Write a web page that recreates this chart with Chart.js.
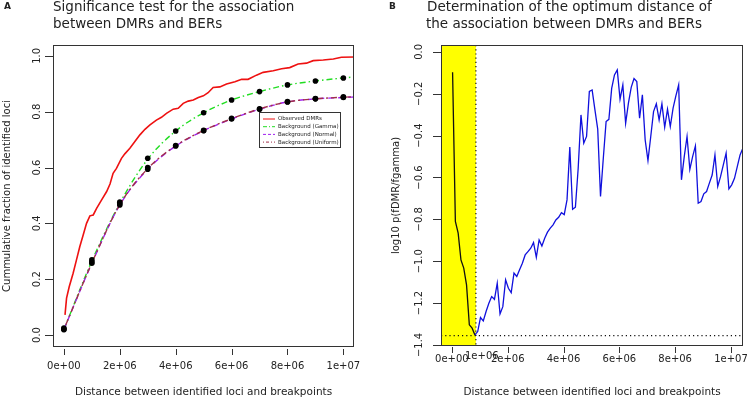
<!DOCTYPE html>
<html>
<head>
<meta charset="utf-8">
<script src="https://cdn.jsdelivr.net/npm/chart.js@4.4.1/dist/chart.umd.min.js"></script>
<style>
  html, body { margin: 0; padding: 0; background: #fff; }
  #wrap { position: relative; width: 747px; height: 401px; }
  #chartA { position: absolute; left: 0; top: 0; }
  #chartB { position: absolute; left: 374px; top: 0; }
</style>
</head>
<body>
<div id="wrap">
  <canvas id="chartA" width="374" height="401"></canvas>
  <canvas id="chartB" width="373" height="401"></canvas>
</div>
<script>
const FONT = "'DejaVu Sans', sans-serif";
const TEXT = "#222";

// ---- panel A: cumulative fractions ----
const bgDistance = [0, 1e6, 2e6, 3e6, 4e6, 5e6, 6e6, 7e6, 8e6, 9e6, 1e7];
const gammaDots = [0.02, 0.269, 0.476, 0.633, 0.731, 0.796, 0.842, 0.872, 0.896, 0.910, 0.921];
const normalDots = [0.02, 0.257, 0.466, 0.594, 0.677, 0.732, 0.774, 0.809, 0.835, 0.846, 0.851];
const uniformDots = [0.025, 0.262, 0.470, 0.600, 0.679, 0.733, 0.776, 0.810, 0.836, 0.847, 0.853];

const curveDistance = [0, 1e6, 2e6, 3e6, 4e6, 5e6, 6e6, 7e6, 8e6, 9e6, 1e7, 1.045e7];
const gammaCurve = [0.02, 0.265, 0.472, 0.630, 0.731, 0.796, 0.842, 0.872, 0.896, 0.910, 0.921, 0.925];
const normalCurve = [0.02, 0.257, 0.466, 0.594, 0.677, 0.732, 0.774, 0.809, 0.835, 0.846, 0.851, 0.853];
const uniformCurve = [0.02, 0.258, 0.467, 0.596, 0.678, 0.733, 0.775, 0.810, 0.835, 0.846, 0.852, 0.854];

// observed DMRs, distance in Mb
const observedMb = [0.04, 0.095, 0.19, 0.33, 0.45, 0.57, 0.69, 0.81, 0.93, 1.05,
  1.17, 1.35, 1.53, 1.65, 1.76, 1.88, 2.06, 2.18, 2.36, 2.54,
  2.72, 2.90, 3.08, 3.31, 3.49, 3.67, 3.91, 4.09, 4.27, 4.45,
  4.63, 4.81, 4.99, 5.16, 5.34, 5.58, 5.82, 6.12, 6.36, 6.59,
  6.89, 7.13, 7.49, 7.79, 8.08, 8.38, 8.68, 8.92, 9.28, 9.64,
  9.93, 10.45];
const observedFraction = [0.072, 0.132, 0.173, 0.221, 0.269, 0.317, 0.358, 0.400, 0.427, 0.430,
  0.454, 0.484, 0.514, 0.541, 0.579, 0.597, 0.633, 0.649, 0.669, 0.693,
  0.717, 0.737, 0.753, 0.770, 0.780, 0.794, 0.809, 0.812, 0.830, 0.838,
  0.842, 0.851, 0.857, 0.868, 0.887, 0.889, 0.899, 0.907, 0.916, 0.916,
  0.931, 0.941, 0.947, 0.954, 0.958, 0.971, 0.974, 0.983, 0.985, 0.989,
  0.995, 0.996];

const xTicks = [0, 2e6, 4e6, 6e6, 8e6, 1e7];
const yTicksA = [0, 0.2, 0.4, 0.6, 0.8, 1.0];

// ---- panel B: log10 p over distance ----
const distanceMb = [0.025, 0.125, 0.225, 0.325, 0.425, 0.525, 0.625, 0.725, 0.825, 0.925,
  1.025, 1.125, 1.225, 1.325, 1.425, 1.525, 1.625, 1.725, 1.825, 1.925,
  2.025, 2.125, 2.225, 2.325, 2.425, 2.525, 2.625, 2.725, 2.825, 2.925,
  3.025, 3.125, 3.225, 3.325, 3.425, 3.525, 3.625, 3.725, 3.825, 3.925,
  4.025, 4.125, 4.225, 4.325, 4.425, 4.525, 4.625, 4.725, 4.825, 4.925,
  5.025, 5.125, 5.225, 5.325, 5.425, 5.525, 5.625, 5.725, 5.825, 5.925,
  6.025, 6.125, 6.225, 6.325, 6.425, 6.525, 6.625, 6.725, 6.825, 6.925,
  7.025, 7.125, 7.225, 7.325, 7.425, 7.525, 7.625, 7.725, 7.825, 7.925,
  8.025, 8.125, 8.225, 8.325, 8.425, 8.525, 8.625, 8.725, 8.825, 8.925,
  9.025, 9.125, 9.225, 9.325, 9.425, 9.525, 9.625, 9.725, 9.825, 9.925,
  10.025, 10.125, 10.225, 10.325, 10.425];
const log10p = [-0.097, -0.81, -0.866, -0.994, -1.033, -1.113, -1.304, -1.32, -1.352, -1.336,
  -1.269, -1.285, -1.240, -1.201, -1.169, -1.182, -1.105, -1.252, -1.217, -1.089,
  -1.129, -1.150, -1.057, -1.073, -1.041, -1.010, -0.970, -0.954, -0.938, -0.911,
  -0.981, -0.898, -0.927, -0.890, -0.861, -0.842, -0.826, -0.803, -0.790, -0.768,
  -0.777, -0.707, -0.455, -0.752, -0.742, -0.556, -0.301, -0.436, -0.404, -0.189,
  -0.182, -0.277, -0.369, -0.691, -0.508, -0.333, -0.322, -0.174, -0.110, -0.086,
  -0.226, -0.158, -0.341, -0.245, -0.169, -0.127, -0.142, -0.317, -0.205, -0.420,
  -0.519, -0.404, -0.285, -0.248, -0.325, -0.248, -0.360, -0.274, -0.357, -0.269,
  -0.210, -0.158, -0.611, -0.500, -0.404, -0.561, -0.500, -0.449, -0.723, -0.715,
  -0.678, -0.667, -0.627, -0.588, -0.492, -0.643, -0.596, -0.540, -0.484, -0.654,
  -0.635, -0.604, -0.548, -0.492, -0.460];
const yTicksB = [0, -0.2, -0.4, -0.6, -0.8, -1.0, -1.2, -1.4];
const blackUntil = 8;       // points inside the yellow window
const cutoff = 0.86e6;      // optimum distance
const minLevel = -1.355;    // minimum log10 p

// R-like scientific labels: 2e+06
function sci(v) {
  if (v === 0) return "0e+00";
  const e = Math.floor(Math.log10(Math.abs(v)));
  const m = Math.round(v / Math.pow(10, e));
  return m + "e+" + String(e).padStart(2, "0");
}

function pts(xs, ys, scale) {
  return xs.map((x, i) => ({ x: x * scale, y: ys[i] }));
}

// box, tick marks, panel letter and title
const framePlugin = {
  id: "frame",
  afterDatasetsDraw(chart, args, opts) {
    const { ctx, chartArea: a, scales: { x, y } } = chart;
    ctx.save();
    ctx.strokeStyle = "#333";
    ctx.lineWidth = 1;
    ctx.strokeRect(a.left + 0.5, a.top + 0.5, a.right - a.left - 1, a.bottom - a.top - 1);
    ctx.beginPath();
    x.ticks.forEach(t => {
      const px = Math.round(x.getPixelForValue(t.value)) + 0.5;
      ctx.moveTo(px, a.bottom + opts.gapX);
      ctx.lineTo(px, a.bottom + opts.gapX + 6);
    });
    y.ticks.forEach(t => {
      const py = Math.round(y.getPixelForValue(t.value)) + 0.5;
      ctx.moveTo(a.left - 8, py);
      ctx.lineTo(a.left, py);
    });
    ctx.stroke();

    ctx.fillStyle = TEXT;
    ctx.textBaseline = "middle";
    ctx.textAlign = "left";
    ctx.font = "bold 9px " + FONT;
    ctx.fillText(opts.letter, opts.letterX, 7);
    ctx.font = "13.5px " + FONT;
    opts.title.forEach((line, i) => ctx.fillText(line, opts.titleX[i], 7 + i * 17));
    ctx.restore();
  }
};

// legend box inside panel A
const legendItems = [
  { label: "Observed DMRs", color: "#ee1111", dash: [] },
  { label: "Background (Gamma)", color: "#22dd22", dash: [4, 2, 1, 2] },
  { label: "Background (Normal)", color: "#a020f0", dash: [3, 2] },
  { label: "Background (Uniform)", color: "#a0304a", dash: [1, 2, 3, 2] }
];
const legendPlugin = {
  id: "boxLegend",
  afterDatasetsDraw(chart) {
    const { ctx } = chart;
    ctx.save();
    ctx.fillStyle = "#fff";
    ctx.fillRect(259, 112, 81, 35);
    ctx.strokeStyle = "#333";
    ctx.lineWidth = 1;
    ctx.strokeRect(259.5, 112.5, 81, 35);
    ctx.font = "5.5px " + FONT;
    ctx.textBaseline = "middle";
    legendItems.forEach((it, i) => {
      const ly = 119 + i * 7.7;
      ctx.strokeStyle = it.color;
      ctx.setLineDash(it.dash);
      ctx.lineWidth = 1;
      ctx.beginPath();
      ctx.moveTo(263, ly);
      ctx.lineTo(275, ly);
      ctx.stroke();
      ctx.fillStyle = TEXT;
      ctx.fillText(it.label, 278, ly);
    });
    ctx.restore();
  }
};

// yellow window and dotted guides in panel B
const windowPlugin = {
  id: "window",
  beforeDatasetsDraw(chart) {
    const { ctx, chartArea: a, scales: { x, y } } = chart;
    const cx = x.getPixelForValue(cutoff);
    const my = y.getPixelForValue(minLevel);
    ctx.save();
    ctx.fillStyle = "#ffff00";
    ctx.fillRect(a.left, a.top, cx - a.left, a.bottom - a.top);
    ctx.strokeStyle = "#111";
    ctx.lineWidth = 1.2;
    ctx.setLineDash([1.2, 3]);
    ctx.beginPath();
    ctx.moveTo(cx, a.top);
    ctx.lineTo(cx, a.bottom);
    ctx.moveTo(a.left, my);
    ctx.lineTo(a.right, my);
    ctx.stroke();
    ctx.restore();
  },
  afterDraw(chart) {
    const { ctx, scales: { x } } = chart;
    ctx.save();
    ctx.fillStyle = TEXT;
    ctx.font = "10px " + FONT;
    ctx.textAlign = "center";
    ctx.textBaseline = "middle";
    ctx.fillText(sci(1e6), x.getPixelForValue(1e6) + 2, 356);
    ctx.restore();
  }
};

function xAxis(max, height, labelPad) {
  return {
    type: "linear",
    min: -0.39e6,
    max: max,
    afterBuildTicks: s => { s.ticks = xTicks.map(v => ({ value: v })); },
    afterFit: s => {
      s.height = height;
      // let the end labels overhang the box, as in the original
      s.paddingLeft = 0;
      s.paddingRight = 0;
    },
    grid: { display: false, drawTicks: false },
    border: { display: false },
    ticks: {
      autoSkip: false, maxRotation: 0, padding: labelPad, color: TEXT,
      font: { family: FONT, size: 10 },
      callback: v => sci(v)
    },
    title: {
      display: true, text: "Distance between identified loci and breakpoints",
      color: TEXT, font: { family: FONT, size: 10.5 }, padding: { top: 0, bottom: 2 }
    }
  };
}

function yAxis(min, max, ticks, width, labelPad, titleText, titlePad, fmt) {
  return {
    type: "linear",
    min: min,
    max: max,
    afterBuildTicks: s => { s.ticks = ticks.map(v => ({ value: v })); },
    afterFit: s => {
      s.width = width;
      s.paddingTop = 0;
      s.paddingBottom = 0;
    },
    grid: { display: false, drawTicks: false },
    border: { display: false },
    ticks: {
      minRotation: 90, maxRotation: 90, crossAlign: "center", padding: labelPad,
      color: TEXT, font: { family: FONT, size: 10 }, callback: fmt
    },
    title: {
      display: true, text: titleText, color: TEXT,
      font: { family: FONT, size: 10 }, padding: { top: titlePad, bottom: 0 }
    }
  };
}

const baseOptions = {
  responsive: false,
  animation: false,
  events: [],
  plugins: { legend: { display: false }, tooltip: { enabled: false } }
};

const chartA = new Chart(document.getElementById("chartA"), {
  type: "line",
  data: {
    datasets: [
      { data: pts(bgDistance, gammaDots, 1), showLine: false, pointRadius: 2.8, pointBackgroundColor: "#000", pointBorderWidth: 0 },
      { data: pts(bgDistance, normalDots, 1), showLine: false, pointRadius: 2.8, pointBackgroundColor: "#000", pointBorderWidth: 0 },
      { data: pts(bgDistance, uniformDots, 1), showLine: false, pointRadius: 2.8, pointBackgroundColor: "#000", pointBorderWidth: 0 },
      { label: "Observed DMRs", data: pts(observedMb, observedFraction, 1e6), borderColor: "#ee1111", borderWidth: 1.6, pointRadius: 0 },
      { label: "Background (Uniform)", data: pts(curveDistance, uniformCurve, 1), borderColor: "#a0304a", borderWidth: 1.4, borderDash: [2, 3, 6, 3], pointRadius: 0, cubicInterpolationMode: "monotone" },
      { label: "Background (Normal)", data: pts(curveDistance, normalCurve, 1), borderColor: "#a020f0", borderWidth: 1.4, borderDash: [6, 4], pointRadius: 0, cubicInterpolationMode: "monotone" },
      { label: "Background (Gamma)", data: pts(curveDistance, gammaCurve, 1), borderColor: "#22dd22", borderWidth: 1.4, borderDash: [6, 3, 1.5, 3], pointRadius: 0, cubicInterpolationMode: "monotone" }
    ]
  },
  options: {
    ...baseOptions,
    layout: { autoPadding: false, padding: { left: 0, top: 45, right: 20, bottom: 0 } },
    scales: {
      x: xAxis(10.38e6, 54, 13),
      y: yAxis(-0.043, 1.039, yTicksA, 53, 8, "Cummulative fraction of identified loci", 1, v => v.toFixed(1))
    },
    plugins: {
      ...baseOptions.plugins,
      frame: {
        gapX: 2, letter: "A", letterX: 4,
        title: ["Significance test for the association", "between DMRs and BERs"],
        titleX: [53, 53]
      }
    }
  },
  plugins: [framePlugin, legendPlugin]
});

const chartB = new Chart(document.getElementById("chartB"), {
  type: "line",
  data: {
    datasets: [
      {
        data: pts(distanceMb, log10p, 1e6),
        borderColor: "#1010dd",
        borderWidth: 1.3,
        pointRadius: 0,
        segment: { borderColor: c => (c.p0DataIndex < blackUntil ? "#111" : "#1010dd") }
      }
    ]
  },
  options: {
    ...baseOptions,
    layout: { autoPadding: false, padding: { left: 0, top: 45, right: 4, bottom: 0 } },
    scales: {
      x: xAxis(10.43e6, 55, 7),
      y: yAxis(-1.405, 0.033, yTicksB, 67, 9, "log10 p(fDMR/fgamma)", 16,
        v => (v === 0 ? "0.0" : v.toFixed(1).replace("-", "\u2212")))
    },
    plugins: {
      ...baseOptions.plugins,
      frame: {
        gapX: 1, letter: "B", letterX: 15,
        title: ["Determination of the optimum distance of", "the association between DMRs and BERs"],
        titleX: [53, 52]
      }
    }
  },
  plugins: [framePlugin, windowPlugin]
});
</script>
</body>
</html>
